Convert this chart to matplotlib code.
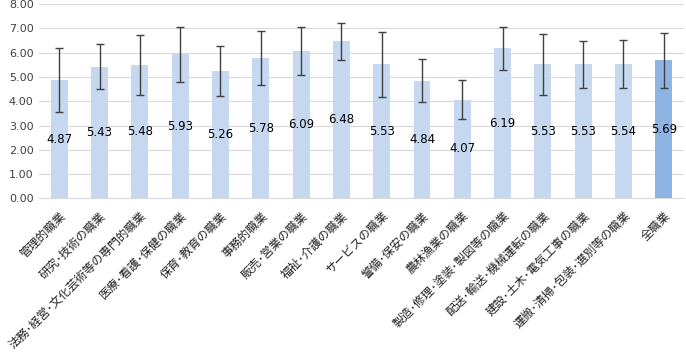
import numpy as np
import matplotlib
matplotlib.use("Agg")
import matplotlib.pyplot as plt

plt.rcParams['font.family'] = ['Noto Sans CJK JP', 'DejaVu Sans']

# データ
categories = ["管理的職業", "研究･技術の職業", "法務･経営･文化芸術等の専門的職業",
              "医療･看護･保健の職業", "保育･教育の職業", "事務的職業",
              "販売･営業の職業", "福祉･介護の職業", "サービスの職業",
              "警備･保安の職業", "農林漁業の職業", "製造･修理･塗装･製図等の職業",
              "配送･輸送･機械運転の職業", "建設･土木･電気工事の職業",
              "運搬･清掃･包装･選別等の職業", "全職業"]
means = [4.87, 5.43, 5.48, 5.93, 5.26, 5.78, 6.09, 6.48, 5.53,
         4.84, 4.07, 6.19, 5.53, 5.53, 5.54, 5.69]
sds = [1.33, 0.93, 1.24, 1.13, 1.03, 1.10, 0.99, 0.76, 1.34,
       0.89, 0.81, 0.89, 1.26, 0.97, 0.99, 1.13]

x = np.arange(len(categories))
colors = ['#C5D8F0'] * (len(categories) - 1) + ['#8EB4E3']

fig = plt.figure(figsize=(6.86, 3.52), dpi=100)
ax = fig.add_axes([0.057, 0.4366, 0.94, 0.5514])

ax.bar(x, means, width=0.42, color=colors, zorder=2)
ax.errorbar(x, means, yerr=sds, fmt='none', ecolor='#404040',
            elinewidth=1.0, capsize=3, capthick=1.0, zorder=3)

# 値ラベル(棒の中央)
for xi, m in zip(x, means):
    ax.text(xi, m / 2, f"{m:.2f}", ha='center', va='center',
            fontsize=8.5, family='DejaVu Sans', color='black', zorder=4)

ax.set_ylim(0, 8)
ax.set_xlim(-0.5, len(categories) - 0.5)
ax.set_yticks(np.arange(0, 9, 1))
ax.set_yticklabels([f"{v:.2f}" for v in range(9)], fontsize=8,
                   family='DejaVu Sans', color='#404040')
ax.yaxis.grid(True, color='#D9D9D9', linewidth=0.8, zorder=0)
ax.set_axisbelow(True)

ax.set_xticks(x)
ax.set_xticklabels(categories, rotation=45, ha='right',
                   rotation_mode='anchor', fontsize=8.5, color='#222222')

for s in ['top', 'right', 'left']:
    ax.spines[s].set_visible(False)
ax.spines['bottom'].set_color('#D9D9D9')
ax.tick_params(axis='both', length=0)
ax.tick_params(axis='y', pad=4)
ax.tick_params(axis='x', pad=8)

fig.savefig('out.png', dpi=100)
